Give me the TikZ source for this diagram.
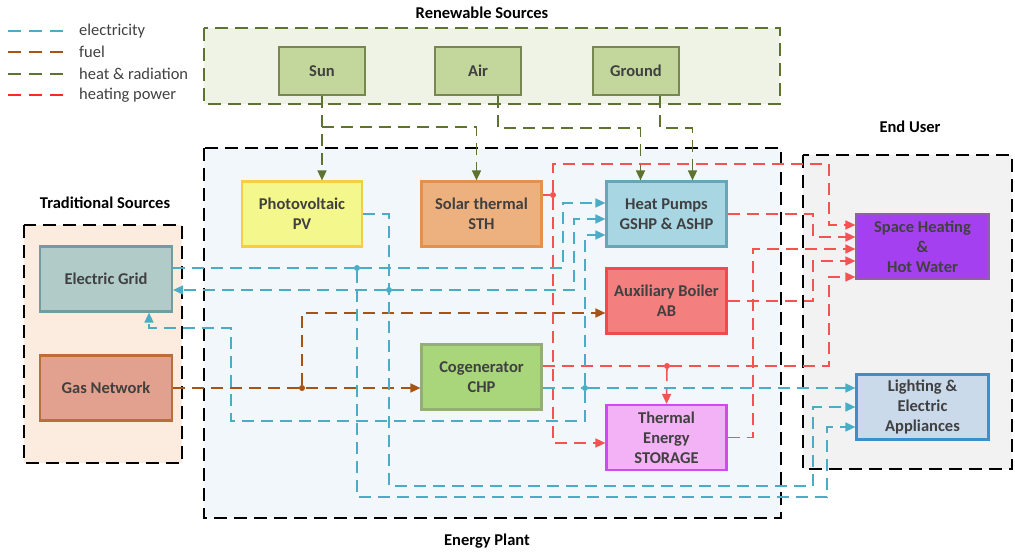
\documentclass[tikz,border=0pt]{standalone}
\usepackage{fontspec}
\setmainfont{Carlito}
\usepackage{tikz}
\usetikzlibrary{arrows.meta, positioning, calc}
\usepackage{xcolor}

\definecolor{txtC}{HTML}{404040}
\definecolor{elecC}{HTML}{4BACC6}
\definecolor{fuelC}{HTML}{A65314}
\definecolor{radC}{HTML}{5E7330}
\definecolor{hpowC}{HTML}{F55252}

\begin{document}
\begin{tikzpicture}[x=1pt, y=-1pt,
  ent/.style={rectangle, draw, line width=2.2pt, font=\fontsize{16.5}{20}\selectfont\bfseries,
              text=txtC, align=center, inner sep=2pt, minimum width=120pt, minimum height=65pt},
  src/.style={ent, fill={rgb,255:red,195;green,214;blue,155}, draw=radC!85, minimum width=86pt, minimum height=48pt},
  grp/.style={line width=2.3pt, dash pattern=on 13pt off 7pt},
  ttl/.style={font=\fontsize{16.5}{20}\selectfont\bfseries, text=black},
  leg/.style={font=\fontsize{16.5}{20}\selectfont, text=txtC, anchor=west, inner sep=0pt},
  conn/.style={line width=1.6pt, dash pattern=on 12pt off 7pt, -{Triangle[length=10pt,width=9pt]}},
  elec/.style={conn, draw=elecC},
  fuel/.style={conn, draw=fuelC},
  rad/.style={conn, draw=radC},
  hpow/.style={conn, draw=hpowC},
  plain/.style={-},
  jdot/.style={circle, inner sep=0pt, minimum size=6pt}
]
\useasboundingbox (0,0) rectangle (1015,553);

% Groups
\draw[grp, draw=radC, fill={rgb,255:red,239;green,243;blue,229}] (204,28) rectangle (780,104);
\draw[grp, draw=black, fill={rgb,255:red,242;green,247;blue,251}] (204,148) rectangle (781,518);
\draw[grp, draw=black, fill={rgb,255:red,252;green,235;blue,223}] (24,225) rectangle (182,463);
\draw[grp, draw=black, fill={rgb,255:red,242;green,242;blue,242}] (803,155) rectangle (1012,469);

\node[ttl] (t_ren) at (482,13) {Renewable Sources};
\node[ttl] (t_plant) at (487,541) {Energy Plant};
\node[ttl] (t_trad) at (105,203) {Traditional Sources};
\node[ttl] (t_user) at (910,127) {End User};

% Legend
\draw[elec, plain, dash pattern=on 13pt off 8pt] (8,31) -- (63,31);
\draw[fuel, plain, dash pattern=on 13pt off 8pt] (8,52) -- (63,52);
\draw[rad, plain, dash pattern=on 13pt off 8pt] (8,74) -- (63,74);
\draw[line width=1.6pt, dash pattern=on 13pt off 8pt, draw={rgb,255:red,255;green,40;blue,40}] (8,95) -- (63,95);
\node[leg] (l_elec) at (79,31) {electricity};
\node[leg] (l_fuel) at (79,52) {fuel};
\node[leg] (l_rad) at (79,74) {heat \& radiation};
\node[leg] (l_hpow) at (79,95) {heating power};

% Renewable sources
\node[src] (sun) at (322,71) {Sun};
\node[src] (air) at (478,71) {Air};
\node[src] (ground) at (636,71) {Ground};

% Energy plant
\node[ent, fill={rgb,255:red,244;green,247;blue,139}, draw={rgb,255:red,245;green,205;blue,70}] (pv) at (302,214) {Photovoltaic\\PV};
\node[ent, fill={rgb,255:red,236;green,177;blue,127}, draw={rgb,255:red,227;green,145;blue,79}] (sth) at (481.5,214) {Solar thermal\\STH};
\node[ent, fill={rgb,255:red,168;green,214;blue,227}, draw={rgb,255:red,106;green,165;blue,183}] (hp) at (666.5,214) {Heat Pumps\\GSHP \& ASHP};
\node[ent, fill={rgb,255:red,244;green,127;blue,127}, draw={rgb,255:red,240;green,74;blue,74}] (ab) at (666.5,301) {Auxiliary Boiler\\AB};
\node[ent, fill={rgb,255:red,169;green,214;blue,123}, draw={rgb,255:red,148;green,174;blue,115}] (chp) at (481.5,377) {Cogenerator\\CHP};
\node[ent, fill={rgb,255:red,243;green,177;blue,246}, draw={rgb,255:red,207;green,75;blue,239}] (sto) at (666.5,437.5) {Thermal\\Energy\\STORAGE};

% Traditional sources
\node[ent, minimum width=132pt, fill={rgb,255:red,176;green,203;blue,200}, draw={rgb,255:red,110;green,158;blue,162}] (grid) at (106,279) {Electric Grid};
\node[ent, minimum width=132pt, fill={rgb,255:red,226;green,161;blue,142}, draw={rgb,255:red,187;green,109;blue,58}] (gas) at (106,388) {Gas Network};

% End user
\node[ent, minimum width=132pt, fill={rgb,255:red,165;green,64;blue,240}, draw={rgb,255:red,142;green,93;blue,176}] (sh) at (922.5,246.5) {Space Heating\\\&\\Hot Water};
\node[ent, minimum width=132pt, fill={rgb,255:red,202;green,218;blue,235}, draw={rgb,255:red,60;green,143;blue,203}] (lit) at (922.5,407) {Lighting \&\\Electric\\Appliances};

% Junctions
\node[jdot, fill=fuelC] (f1) at (302,388) {};
\node[jdot, fill=hpowC] (h1) at (553,195) {};
\node[jdot, fill=hpowC] (h2) at (667,366) {};
\node[jdot, fill=elecC] (e1) at (357,268) {};
\node[jdot, fill=elecC] (e2) at (389,290) {};
\node[jdot, fill=elecC] (e3) at (585,388) {};
\coordinate (s1) at (322,127);

% Heat & radiation
\draw[rad] (sun.south) -- (sun.south |- pv.north);
\draw[rad] (s1) -| ([xshift=-5pt]sth.north);
\draw[rad] ([xshift=20pt]air.south) -- ++(0,32) -| ([xshift=-26pt]hp.north);
\draw[rad] ([xshift=24pt]ground.south) -- ++(0,32) -| ([xshift=26pt]hp.north);

% Fuel
\draw[fuel] (gas.east) -- ([yshift=-11pt]chp.west);
\draw[fuel] (f1) |- ([yshift=-12pt]ab.west);

% Heating power
\draw[hpow, plain] ([yshift=19pt]sth.east) -- (h1);
\draw[hpow] (h1) |- (829,164) |- ([yshift=21.5pt]sh.west);
\draw[hpow] (h1) |- ([yshift=-5.5pt]sto.west);
\draw[hpow] (hp.east) -- (813,214) |- ([yshift=9.5pt]sh.west);
\draw[hpow] (sto.east) -- (753,437.5) |- ([yshift=-2.5pt]sh.west);
\draw[hpow] (ab.east) -- (813,301) |- ([yshift=-14.5pt]sh.west);
\draw[hpow, plain] ([yshift=11pt]chp.east) -- (h2);
\draw[hpow] (h2) -- (829,366) |- ([yshift=-30.5pt]sh.west);
\draw[hpow] (h2) -- (sto.north);

% Electricity
\draw[elec, plain] ([yshift=11pt]grid.east) -- (e1);
\draw[elec] (e1) -- (563,268) |- ([yshift=11pt]hp.west);
\draw[elec] (e1) |- (827,497) |- ([yshift=-20pt]lit.west);
\draw[elec] (pv.east) -- (389,214) |- (813,486) |- (lit.west);
\draw[elec] (e2) -- ([yshift=-11pt]grid.east);
\draw[elec] (e2) -- (574,290) |- ([yshift=-5pt]hp.west);
\draw[elec, plain] ([yshift=-11pt]chp.east) -- (e3);
\draw[elec] (e3) -- ([yshift=19pt]lit.west);
\draw[elec] (e3) |- ([yshift=-21pt]hp.west);
\draw[elec] (e3) -- (585,421) -| (231,328) -| ([xshift=43pt]grid.south);

\end{tikzpicture}
\end{document}
